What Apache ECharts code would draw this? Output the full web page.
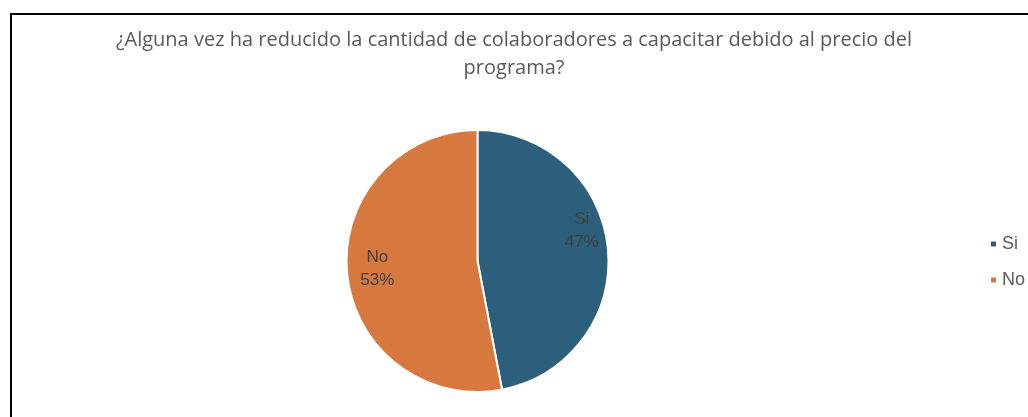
<!DOCTYPE html>
<html>
<head>
<meta charset="utf-8">
<script src="https://cdn.jsdelivr.net/npm/echarts@6/dist/echarts.min.js"></script>
<style>
  html, body { margin: 0; padding: 0; background: #fff; }
  #frame { position: absolute; left: 10px; top: 13px; width: 1100px; height: 500px; border: 2px solid #000; box-sizing: border-box; }
  #chart { position: absolute; left: 0; top: 0; width: 1028px; height: 417px; }
</style>
</head>
<body>
<div id="frame"></div>
<div id="chart"></div>
<script>
// Survey answers and their shares
const categories = ['Si', 'No'];
const shares = [47, 53];
const sliceColors = ['#2C5F7C', '#D7783F'];
// Per-slice nudges of the in-slice labels
const labelOffsets = [[36, -24], [-32, 1]];
const titleText = '¿Alguna vez ha reducido la cantidad de colaboradores a capacitar debido al precio del\nprograma?';

const chart = echarts.init(document.getElementById('chart'), null, { renderer: 'canvas' });

chart.setOption({
  backgroundColor: 'transparent',
  animation: false,
  graphic: [{
    type: 'text',
    x: 514,
    y: 26,
    silent: true,
    style: {
      text: titleText,
      textAlign: 'center',
      textVerticalAlign: 'top',
      fontFamily: 'Open Sans',
      fontSize: 20,
      lineHeight: 28,
      fill: '#595959'
    }
  }],
  legend: {
    orient: 'vertical',
    left: 989,
    top: 235,
    padding: 0,
    itemWidth: 7,
    itemHeight: 7,
    itemGap: 18,
    icon: 'rect',
    textStyle: {
      fontFamily: 'Liberation Sans',
      fontSize: 18,
      color: '#595959'
    },
    data: categories
  },
  series: [{
    type: 'pie',
    center: [477.5, 261],
    radius: 131,
    startAngle: 90,
    clockwise: true,
    label: {
      show: true,
      position: 'inside',
      formatter: '{b}\n{d}%',
      fontFamily: 'Liberation Sans',
      fontSize: 17,
      lineHeight: 23,
      color: '#404040'
    },
    labelLine: { show: false },
    itemStyle: { borderColor: '#fff', borderWidth: 2 },
    emphasis: { disabled: true },
    data: categories.map((name, i) => ({
      name,
      value: shares[i],
      itemStyle: { color: sliceColors[i] },
      label: { offset: labelOffsets[i] }
    }))
  }]
});
</script>
</body>
</html>
